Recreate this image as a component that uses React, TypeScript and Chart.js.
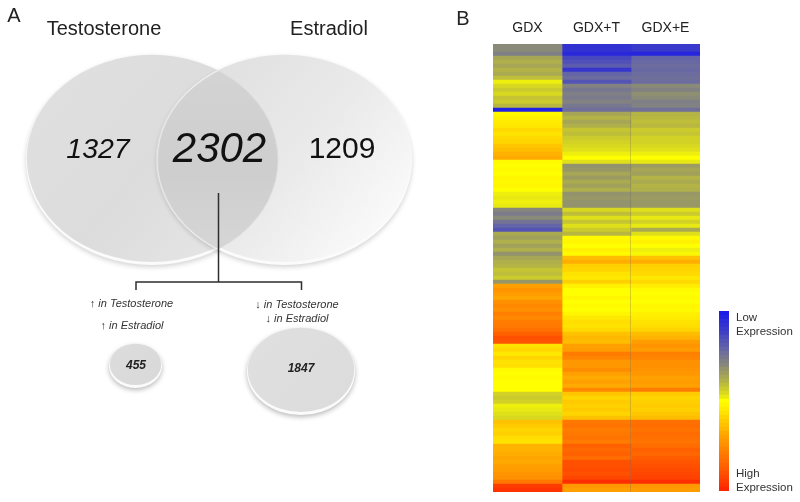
import React, { useEffect, useRef } from "react";
import { Chart, registerables } from "chart.js";

Chart.register(...registerables);

// ---------- heatmap data (expression level, 0 = low ... 10 = high)
const rowIds: number[] = Array.from({ length: 112 }, (_, i) => i);
const columns = ["GDX", "GDX+T", "GDX+E"];
const gdx = [
  3.0, 3.0, 2.7, 3.6, 3.8, 3.6, 3.9, 3.7, 4.1, 4.8,
  4.5, 4.3, 4.5, 4.2, 4.3, 4.0, 0.2, 5.1, 5.3, 5.4,
  5.5, 5.8, 5.6, 5.8, 5.9, 6.2, 6.4, 6.6, 6.8, 5.1,
  5.0, 5.1, 5.0, 5.2, 5.1, 5.2, 5.0, 4.8, 4.7, 4.8,
  4.7, 2.9, 2.6, 3.0, 2.4, 2.0, 1.6, 3.7, 3.5, 3.8,
  3.5, 3.8, 3.2, 3.6, 3.8, 3.9, 4.2, 4.1, 4.3, 3.3,
  7.0, 7.3, 7.1, 6.9, 7.4, 7.6, 7.4, 7.8, 7.6, 7.9,
  8.0, 8.2, 8.6, 9.0, 8.9, 5.6, 5.8, 5.5, 5.9, 5.6,
  5.7, 5.1, 5.0, 5.1, 5.0, 5.0, 5.0, 4.4, 4.3, 4.4,
  4.8, 4.7, 4.6, 4.5, 6.3, 6.1, 5.9, 6.0, 5.7, 5.6,
  6.6, 6.6, 6.7, 6.9, 6.8, 7.0, 7.1, 7.3, 7.4, 8.0,
  9.4, 9.6,
];
const gdxT = [
  0.7, 0.7, 0.4, 1.3, 1.5, 1.8, 0.8, 2.0, 2.2, 1.6,
  2.8, 2.5, 2.7, 2.6, 2.8, 2.5, 2.3, 3.6, 3.9, 3.6,
  3.8, 4.2, 4.1, 4.3, 4.4, 4.5, 4.6, 4.8, 5.0, 4.6,
  3.2, 3.3, 3.6, 3.4, 3.7, 3.5, 3.8, 3.2, 3.3, 3.2,
  3.2, 4.5, 4.1, 4.6, 4.2, 4.6, 4.3, 4.0, 5.1, 5.2,
  5.0, 5.3, 5.1, 6.4, 6.7, 6.0, 5.9, 5.6, 5.5, 6.0,
  5.3, 5.0, 5.0, 5.2, 5.0, 5.1, 5.0, 5.2, 5.5, 5.7,
  5.6, 5.8, 6.3, 6.5, 6.4, 7.0, 7.1, 7.9, 7.7, 7.2,
  7.2, 7.5, 7.0, 6.8, 7.0, 6.8, 7.6, 6.2, 5.9, 6.1,
  6.0, 6.1, 5.9, 6.3, 8.0, 8.1, 7.9, 8.0, 8.1, 7.9,
  8.6, 8.4, 8.6, 8.3, 9.0, 9.0, 9.1, 9.0, 9.2, 9.7,
  7.2, 7.0,
];
const gdxE = [
  0.9, 0.9, 0.3, 2.0, 2.1, 2.2, 2.1, 2.2, 2.3, 2.2,
  3.0, 2.8, 3.1, 3.0, 2.7, 2.8, 2.3, 3.9, 4.0, 4.1,
  4.0, 4.3, 4.2, 4.4, 4.4, 4.5, 4.6, 4.8, 5.0, 4.7,
  3.4, 3.6, 3.5, 3.9, 3.7, 3.9, 3.8, 3.3, 3.4, 3.3,
  3.3, 4.6, 4.3, 4.7, 4.4, 4.7, 3.7, 4.6, 5.1, 5.3,
  5.0, 4.8, 4.9, 6.3, 6.7, 6.0, 5.9, 5.8, 5.5, 5.8,
  5.4, 5.1, 5.0, 5.1, 5.0, 5.2, 5.1, 5.3, 5.4, 5.6,
  5.7, 5.9, 6.4, 6.6, 7.1, 7.3, 7.1, 7.8, 7.7, 7.4,
  7.4, 7.3, 7.2, 7.0, 7.1, 7.0, 7.9, 6.1, 5.9, 6.0,
  6.1, 6.0, 6.2, 6.4, 8.2, 8.3, 8.1, 8.3, 8.2, 8.1,
  8.3, 8.6, 8.4, 8.7, 8.9, 9.0, 9.1, 9.2, 9.3, 9.7,
  7.2, 7.1,
];

// ---------- colour bar
const legendLevels = [
  0, 0.2, 0.5, 0.7, 0.9, 1.1, 1.4, 1.6, 1.8, 2.0, 2.3, 2.5, 2.7, 2.9, 3.2,
  3.4, 3.6, 3.8, 4.1, 4.3, 4.5, 4.7, 5.0, 5.2, 5.4, 5.6, 5.9, 6.1, 6.3, 6.5,
  6.8, 7.0, 7.2, 7.4, 7.7, 7.9, 8.1, 8.3, 8.5, 8.7, 9.0, 9.2, 9.4, 9.6, 9.9,
];
const legendTexts: Record<number, string[]> = {
  3: ["Low", "Expression"],
  42: ["High", "Expression"],
};

const colorStops: [number, number[]][] = [
  [0, [28, 28, 232]],
  [1, [60, 60, 200]],
  [2, [100, 100, 168]],
  [3, [138, 138, 120]],
  [4, [184, 184, 64]],
  [4.5, [216, 216, 32]],
  [5, [255, 255, 0]],
  [6, [255, 208, 0]],
  [7, [255, 160, 0]],
  [8, [255, 120, 0]],
  [9, [255, 80, 0]],
  [10, [255, 32, 0]],
];
function levelColor(v: number): string {
  for (let i = 1; i < colorStops.length; i++) {
    const [b, cb] = colorStops[i];
    const [a, ca] = colorStops[i - 1];
    if (v <= b) {
      const t = (v - a) / (b - a);
      const c = ca.map((q, k) => Math.round(q + (cb[k] - q) * t));
      return `rgb(${c[0]},${c[1]},${c[2]})`;
    }
  }
  return "rgb(255,32,0)";
}

// ---------- Venn data, on the panel's own x / y scales
const vennXs = [152, 284.5, 217.5, 135.5, 301];
const vennYs = [160, 160, 160, 366, 371.5];
const vennRx = [126, 127.5, 0, 26.5, 54];
const vennRy = [105, 105, 0, 22, 43.5];
const vennCounts = ["1327", "1209", "2302", "455", "1847"];
const stemXs = [218.5, 218.5];
const stemYs = [193, 282];
const bracketXs = [136, 136, 301.5, 301.5];
const bracketYs = [290, 282, 282, 290];

const SANS = '"Liberation Sans", Arial, sans-serif';
const vennTexts = [
  { t: "A", x: 14, y: 16, f: `20px ${SANS}`, c: "#222" },
  { t: "Testosterone", x: 104, y: 29, f: `20px ${SANS}`, c: "#222" },
  { t: "Estradiol", x: 329, y: 29, f: `20px ${SANS}`, c: "#222" },
  { t: vennCounts[0], x: 98, y: 150, f: `italic 28.5px ${SANS}`, c: "#111" },
  { t: vennCounts[2], x: 219.5, y: 150, f: `italic 42px ${SANS}`, c: "#111" },
  { t: vennCounts[1], x: 342, y: 150, f: `30px ${SANS}`, c: "#111" },
  { t: vennCounts[3], x: 136, y: 366, f: `italic bold 12px ${SANS}`, c: "#222" },
  { t: vennCounts[4], x: 301, y: 369, f: `italic bold 12px ${SANS}`, c: "#222" },
  { t: "↑ in Testosterone", x: 131.5, y: 304, f: `italic 11px ${SANS}`, c: "#333" },
  { t: "↑ in Estradiol", x: 132, y: 326, f: `italic 11px ${SANS}`, c: "#333" },
  { t: "↓ in Testosterone", x: 297, y: 305, f: `italic 11px ${SANS}`, c: "#333" },
  { t: "↓ in Estradiol", x: 297, y: 319, f: `italic 11px ${SANS}`, c: "#333" },
];

function ellipseSprite(rx: number, ry: number, stops: [number, string][], shade: number) {
  const c = document.createElement("canvas");
  c.width = Math.ceil(rx * 2 + 28);
  c.height = Math.ceil(ry * 2 + 28);
  const g = c.getContext("2d")!;
  const cx = c.width / 2;
  const cy = c.height / 2;
  g.save();
  g.shadowColor = `rgba(0,0,0,${shade})`;
  g.shadowBlur = 5;
  g.shadowOffsetY = 2;
  g.fillStyle = "#fbfbfb";
  g.beginPath();
  g.ellipse(cx, cy, rx, ry, 0, 0, Math.PI * 2);
  g.fill();
  g.restore();
  const lg = g.createLinearGradient(cx - rx * 0.7, cy - ry * 0.7, cx + rx * 0.7, cy + ry * 0.7);
  stops.forEach(([o, col]) => lg.addColorStop(o, col));
  g.fillStyle = lg;
  g.beginPath();
  g.ellipse(cx, cy - 1.6, rx - 0.8, ry - 1.4, 0, 0, Math.PI * 2);
  g.fill();
  return c;
}

function lensSprite() {
  const c = document.createElement("canvas");
  c.width = 150;
  c.height = 220;
  const g = c.getContext("2d")!;
  const ox = 75 - vennXs[2];
  const oy = 110 - vennYs[2];
  g.save();
  g.beginPath();
  g.ellipse(vennXs[0] + ox, vennYs[0] + oy, vennRx[0], vennRy[0], 0, 0, Math.PI * 2);
  g.clip();
  const lg = g.createLinearGradient(0, 10, 0, 200);
  lg.addColorStop(0, "#d4d4d4");
  lg.addColorStop(0.6, "#cecece");
  lg.addColorStop(1, "#d6d6d6");
  g.fillStyle = lg;
  g.beginPath();
  g.ellipse(vennXs[1] + ox, vennYs[1] + oy, vennRx[1], vennRy[1], 0, 0, Math.PI * 2);
  g.fill();
  g.strokeStyle = "rgba(255,255,255,0.6)";
  g.lineWidth = 1.2;
  g.stroke();
  g.restore();
  return c;
}

const vennTextPlugin = {
  id: "vennText",
  afterDatasetsDraw(chart: any) {
    const { ctx, scales } = chart;
    ctx.save();
    ctx.textAlign = "center";
    ctx.textBaseline = "middle";
    vennTexts.forEach((d) => {
      ctx.font = d.f;
      ctx.fillStyle = d.c;
      ctx.fillText(d.t, scales.x.getPixelForValue(d.x), scales.y.getPixelForValue(d.y));
    });
    ctx.restore();
  },
};

const seamPlugin = {
  id: "seam",
  afterDatasetsDraw(chart: any) {
    const { ctx, scales } = chart;
    const x = scales.x.getPixelForValue(2);
    ctx.save();
    ctx.strokeStyle = "rgba(120,110,90,0.3)";
    ctx.lineWidth = 1;
    ctx.beginPath();
    ctx.moveTo(x - 0.5, scales.y.getPixelForValue(rowIds[16]));
    ctx.lineTo(x - 0.5, chart.chartArea.bottom);
    ctx.stroke();
    ctx.fillStyle = "#222";
    ctx.font = `20px ${SANS}`;
    ctx.textAlign = "center";
    ctx.textBaseline = "middle";
    ctx.fillText("B", 23, 19);
    ctx.restore();
  },
};

const baseOptions: any = {
  responsive: false,
  animation: false,
  events: [],
  plugins: { legend: { display: false }, tooltip: { enabled: false }, title: { display: false } },
};

export default function App() {
  const vennRef = useRef<HTMLCanvasElement>(null);
  const heatRef = useRef<HTMLCanvasElement>(null);
  const barRef = useRef<HTMLCanvasElement>(null);

  useEffect(() => {
    const pt = (i: number) => [{ x: vennXs[i], y: vennYs[i] }];
    const sprites = [
      ellipseSprite(vennRx[0], vennRy[0], [[0, "#dfdfdf"], [0.5, "#dcdcdc"], [1, "#e5e5e5"]], 0.18),
      ellipseSprite(vennRx[1], vennRy[1], [[0, "#e0e0e0"], [0.55, "#eaeaea"], [1, "#f9f9f9"]], 0.18),
      lensSprite(),
      ellipseSprite(vennRx[3], vennRy[3], [[0, "#dcdcdc"], [1, "#d9d9d9"]], 0.28),
      ellipseSprite(vennRx[4], vennRy[4], [[0, "#dfdfdf"], [1, "#dcdcdc"]], 0.28),
    ];
    const venn = new Chart(vennRef.current!, {
      type: "scatter",
      data: {
        datasets: [
          ...sprites.map((s, i) => ({
            label: vennCounts[i],
            data: pt(i),
            pointStyle: s as any,
            pointRadius: 1,
            clip: false as any,
            order: 10 - i,
          })),
          {
            label: "stem",
            data: stemXs.map((x, i) => ({ x, y: stemYs[i] })),
            showLine: true,
            pointRadius: 0,
            borderColor: "#2e2e2e",
            borderWidth: 1.5,
            order: 1,
          },
          {
            label: "bracket",
            data: bracketXs.map((x, i) => ({ x, y: bracketYs[i] })),
            showLine: true,
            pointRadius: 0,
            borderColor: "#2e2e2e",
            borderWidth: 1.5,
            order: 0,
          },
        ],
      },
      options: {
        ...baseOptions,
        layout: { padding: 0, autoPadding: false },
        scales: {
          x: { type: "linear", min: 0, max: 440, display: false },
          y: { type: "linear", min: 0, max: 502, reverse: true, display: false },
        },
      },
      plugins: [vennTextPlugin],
    } as any);

    const series = [gdx, gdxT, gdxE];
    const heat = new Chart(heatRef.current!, {
      type: "bar",
      data: {
        labels: rowIds as any,
        datasets: columns.map((name, k) => ({
          label: name,
          data: series[k].map(() => [k, k + 1]),
          backgroundColor: series[k].map(levelColor),
          borderWidth: 0,
          barPercentage: 1,
          categoryPercentage: 1,
          grouped: false,
        })),
      } as any,
      options: {
        ...baseOptions,
        indexAxis: "y",
        layout: { padding: { left: 53, right: 10, top: 16, bottom: 10 }, autoPadding: false },
        scales: {
          x: {
            type: "linear",
            position: "top",
            min: 0,
            max: 3,
            border: { display: false },
            grid: { display: false, drawTicks: false },
            afterFit: (s: any) => { s.height = 28; s.paddingLeft = 0; s.paddingRight = 0; },
            afterBuildTicks: (s: any) => { s.ticks = [{ value: 0.5 }, { value: 1.5 }, { value: 2.5 }]; },
            ticks: {
              autoSkip: false,
              maxRotation: 0,
              padding: 7,
              color: "#222",
              font: { family: SANS, size: 14 },
              callback: (v: any) => columns[Math.floor(Number(v))],
            },
          },
          y: { type: "category", display: false, grid: { display: false } },
        },
      },
      plugins: [seamPlugin],
    } as any);

    const bar = new Chart(barRef.current!, {
      type: "bar",
      data: {
        labels: legendLevels as any,
        datasets: [
          {
            label: "Expression",
            data: legendLevels.map(() => [0, 1]),
            backgroundColor: legendLevels.map(levelColor),
            borderWidth: 0,
            barPercentage: 1,
            categoryPercentage: 1,
          },
        ],
      } as any,
      options: {
        ...baseOptions,
        indexAxis: "y",
        layout: { padding: { left: 9, right: 0, top: 11, bottom: 11 }, autoPadding: false },
        scales: {
          x: { type: "linear", min: 0, max: 1, display: false },
          y: {
            type: "category",
            position: "right",
            border: { display: false },
            grid: { display: false, drawTicks: false },
            afterFit: (s: any) => { s.width = 71; s.paddingTop = 0; s.paddingBottom = 0; },
            ticks: {
              autoSkip: false,
              padding: 7,
              color: "#333",
              font: { family: SANS, size: 11.5 },
              callback: (_: any, i: number) => legendTexts[i] ?? "",
            },
          },
        },
      },
    } as any);

    return () => {
      venn.destroy();
      heat.destroy();
      bar.destroy();
    };
  }, []);

  const abs = (left: number, top: number, blur = 0.4): React.CSSProperties => ({
    position: "absolute",
    left,
    top,
    display: "block",
    filter: `blur(${blur}px)`,
  });

  return (
    <div style={{ position: "absolute", left: 0, top: 0, width: 800, height: 502, background: "#fff", overflow: "hidden" }}>
      <canvas ref={vennRef} width={440} height={502} style={abs(0, 0)} />
      <canvas ref={heatRef} width={270} height={502} style={abs(440, 0, 0.6)} />
      <canvas ref={barRef} width={90} height={202} style={abs(710, 300)} />
    </div>
  );
}
